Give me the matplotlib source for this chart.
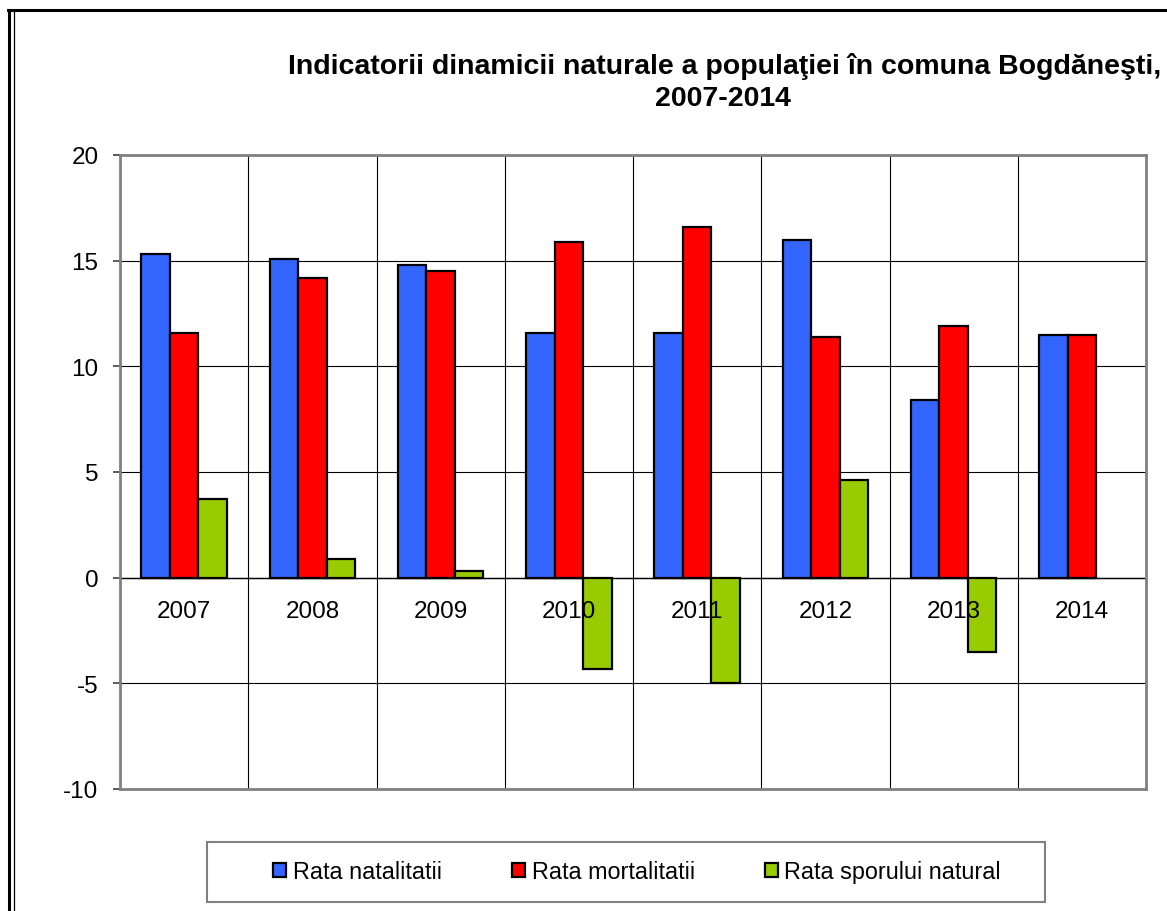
import matplotlib
matplotlib.use("Agg")
import matplotlib.pyplot as plt
import numpy as np
from matplotlib.lines import Line2D
from matplotlib.patches import Patch, Rectangle

plt.rcParams['font.family'] = ['Liberation Sans', 'DejaVu Sans']

years = ["2007", "2008", "2009", "2010", "2011", "2012", "2013", "2014"]
natalitate = [15.3, 15.1, 14.8, 11.6, 11.6, 16.0, 8.4, 11.5]
mortalitate = [11.6, 14.2, 14.5, 15.9, 16.6, 11.4, 11.9, 11.5]
spor_natural = [3.7, 0.9, 0.3, -4.3, -5.0, 4.6, -3.5, 0.0]
series_names = ["Rata natalitatii", "Rata mortalitatii", "Rata sporului natural"]
series_colors = ["#3366FF", "#FF0000", "#99CC00"]
yticks = [-10, -5, 0, 5, 10, 15, 20]
title_line1 = "Indicatorii dinamicii naturale a populaţiei în comuna Bogdăneşti,"
title_line2 = "2007-2014"

W, H = 1167, 912
fig = plt.figure(figsize=(W / 100, H / 100), dpi=100)
fig.patch.set_facecolor("white")

def fx(px):
    return px / W

def fy(py):
    return 1 - py / H

ax = fig.add_axes([fx(120), fy(790), fx(1146) - fx(120), fy(156) - fy(790)])

x = np.arange(len(years))
w = 0.222
for k, (vals, col, name) in enumerate(zip([natalitate, mortalitate, spor_natural], series_colors, series_names)):
    lws = [1.6 if v != 0 else 0 for v in vals]
    ax.bar(x + (k - 1) * w, vals, width=w, color=col, edgecolor="black", linewidth=lws, label=name, zorder=2)

ax.set_xlim(-0.5, len(years) - 0.5)
ax.set_ylim(-10, 20)
ax.set_yticks(yticks)
ax.set_yticklabels([str(t) for t in yticks], fontsize=17.5)
ax.set_xticks([])

# gridlines
for t in yticks:
    ax.axhline(t, color="black", lw=0.8, zorder=1)
for b in np.arange(0.5, len(years) - 0.5, 1.0):
    ax.axvline(b, color="black", lw=0.8, zorder=1)
ax.axhline(0, color="black", lw=1.0, zorder=1.5)

for s in ax.spines.values():
    s.set_color("#808080")
    s.set_linewidth(2.0)
ax.tick_params(axis="y", length=5, width=1.2, color="#404040", pad=10.5, direction="out")

# category labels
for i, lab in enumerate(years):
    ax.annotate(lab, xy=(i, 0), xytext=(0, -16), textcoords="offset points",
                ha="center", va="top", fontsize=17.5, zorder=5)

# title
fig.text(fx(725), fy(66), title_line1, ha="center", va="center", fontsize=20.5, fontweight="bold")
fig.text(fx(723), fy(99), title_line2, ha="center", va="center", fontsize=20.5, fontweight="bold")

# legend
handles = [Patch(facecolor=c, edgecolor="black", linewidth=1.6) for c in series_colors]
fig.legend(handles, series_names, loc="center", bbox_to_anchor=(fx(637), fy(873)), ncol=3,
           frameon=False, fontsize=16.8, handlelength=0.55, handleheight=0.55,
           handletextpad=0.3, columnspacing=3.0)
fig.add_artist(Rectangle((fx(207), fy(903)), fx(1045) - fx(207), fy(843) - fy(903),
                         transform=fig.transFigure, fill=False, edgecolor="#808080", lw=1.5))

# outer frame
fig.add_artist(Line2D([fx(8.5), fx(8.5)], [0, fy(11)], transform=fig.transFigure, color="black", lw=2.2))
fig.add_artist(Line2D([fx(13.5), fx(13.5)], [0, fy(11)], transform=fig.transFigure, color="black", lw=0.9))
fig.add_artist(Line2D([fx(7.5), 1], [fy(11), fy(11)], transform=fig.transFigure, color="black", lw=2.2))

fig.savefig("out.png", dpi=100, facecolor="white")
